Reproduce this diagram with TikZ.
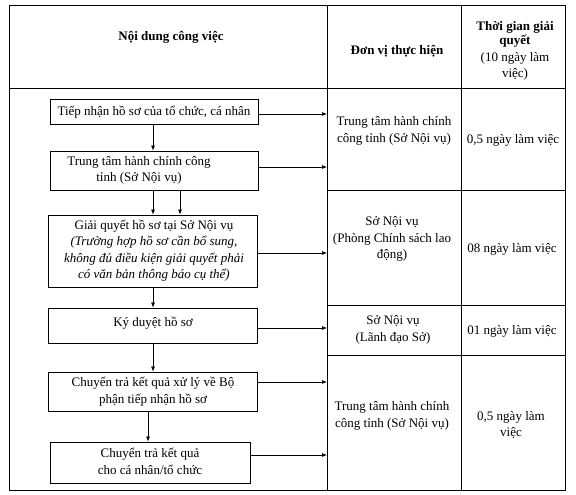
\documentclass[tikz,border=0pt]{standalone}
\usepackage{fontspec}
\setmainfont{Liberation Serif}
\usetikzlibrary{arrows.meta}
\begin{document}
\begin{tikzpicture}[x=1pt,y=-1pt,
  grid/.style={line width=0.7pt},
  box/.style={draw,line width=0.8pt,inner sep=0pt},
  txt/.style={align=center,font=\fontsize{13}{16.5}\selectfont,inner sep=0pt},
  arr/.style={line width=0.7pt,-{Latex[length=5pt,width=4pt]}}]
\useasboundingbox (0,0) rectangle (576,495);
\fill[white] (0,0) rectangle (576,495);
% table
\draw[grid] (9,5) rectangle (565,490);
\draw[grid] (9,88) -- (565,88);
\draw[grid] (327,5) -- (327,490);
\draw[grid] (461,5) -- (461,490);
\draw[grid] (327,190) -- (565,190);
\draw[grid] (327,305) -- (565,305);
\draw[grid] (327,355) -- (565,355);
% header
\node[txt,font=\fontsize{13}{16.5}\selectfont\bfseries] (h1) at (171,37) {Nội dung công việc};
\node[txt,font=\fontsize{13}{16.5}\selectfont\bfseries] (h2) at (397,51) {Đơn vị thực hiện};
\node[txt] (h3) at (515,51) {\textbf{Thời gian giải}\\[-2pt]\textbf{quyết}\\(10 ngày làm\\việc)};
% boxes
\node[box,minimum width=208pt,minimum height=25pt] (b1) at (154,112) {};
\node[txt] (t1) at (154,112) {Tiếp nhận hồ sơ của tổ chức, cá nhân};
\node[box,minimum width=208pt,minimum height=39pt] (b2) at (154,170.5) {};
\node[txt] (t2) at (139,170.5) {Trung tâm hành chính công\\tỉnh (Sở Nội vụ)};
\node[box,minimum width=209pt,minimum height=72pt] (b3) at (152.5,251) {};
\node[txt] (t3) at (154,250.5) {Giải quyết hồ sơ tại Sở Nội vụ\\\textit{(Trường hợp hồ sơ cần bổ sung,}\\\textit{không đủ điều kiện giải quyết phải}\\\textit{có văn bản thông báo cụ thể)}};
\node[box,minimum width=209pt,minimum height=35pt] (b4) at (152.5,325.5) {};
\node[txt] (t4) at (153,323) {Ký duyệt hồ sơ};
\node[box,minimum width=209pt,minimum height=39pt] (b5) at (152.5,391.5) {};
\node[txt] (t5) at (153,391.5) {Chuyển trả kết quả xử lý về Bộ\\phận tiếp nhận hồ sơ};
\node[box,minimum width=200pt,minimum height=41pt] (b6) at (150,462.5) {};
\node[txt] (t6) at (150,461.5) {Chuyển trả kết quả\\cho cá nhân/tổ chức};
% down arrows
\coordinate (xa) at (153,0);
\coordinate (xb) at (180,0);
\coordinate (xc) at (148,0);
\draw[arr] (b1.south -| xa) -- (b2.north -| xa);
\draw[arr] (b2.south -| xa) -- (b3.north -| xa);
\draw[arr] (b2.south -| xb) -- (b3.north -| xb);
\draw[arr] (b3.south -| xa) -- (b4.north -| xa);
\draw[arr] (b4.south -| xa) -- (b5.north -| xa);
\draw[arr] (b5.south -| xc) -- (b6.north -| xc);
% right arrows
\coordinate (r1) at (327,114);
\coordinate (r2) at (327,167);
\coordinate (r3) at (327,253);
\coordinate (r4) at (327,328);
\coordinate (r5) at (327,382);
\coordinate (r6) at (327,455);
\draw[arr] (b1.east |- r1) -- (r1);
\draw[arr] (b2.east |- r2) -- (r2);
\draw[arr] (b3.east |- r3) -- (r3);
\draw[arr] (b4.east |- r4) -- (r4);
\draw[arr] (b5.east |- r5) -- (r5);
\draw[arr] (b6.east |- r6) -- (r6);
% right columns
\node[txt] (u1) at (394,131) {Trung tâm hành chính\\công tỉnh (Sở Nội vụ)};
\node[txt] (v1) at (513,140) {0,5 ngày làm việc};
\node[txt] (u2) at (392,239) {Sở Nội vụ\\(Phòng Chính sách lao\\động)};
\node[txt] (v2) at (512,249) {08 ngày làm việc};
\node[txt] (u3) at (393,330) {Sở Nội vụ\\(Lãnh đạo Sở)};
\node[txt] (v3) at (512,331) {01 ngày làm việc};
\node[txt] (u4) at (392,416) {Trung tâm hành chính\\công tỉnh (Sở Nội vụ)};
\node[txt] (v4) at (511,425) {0,5 ngày làm\\việc};
\end{tikzpicture}
\end{document}
